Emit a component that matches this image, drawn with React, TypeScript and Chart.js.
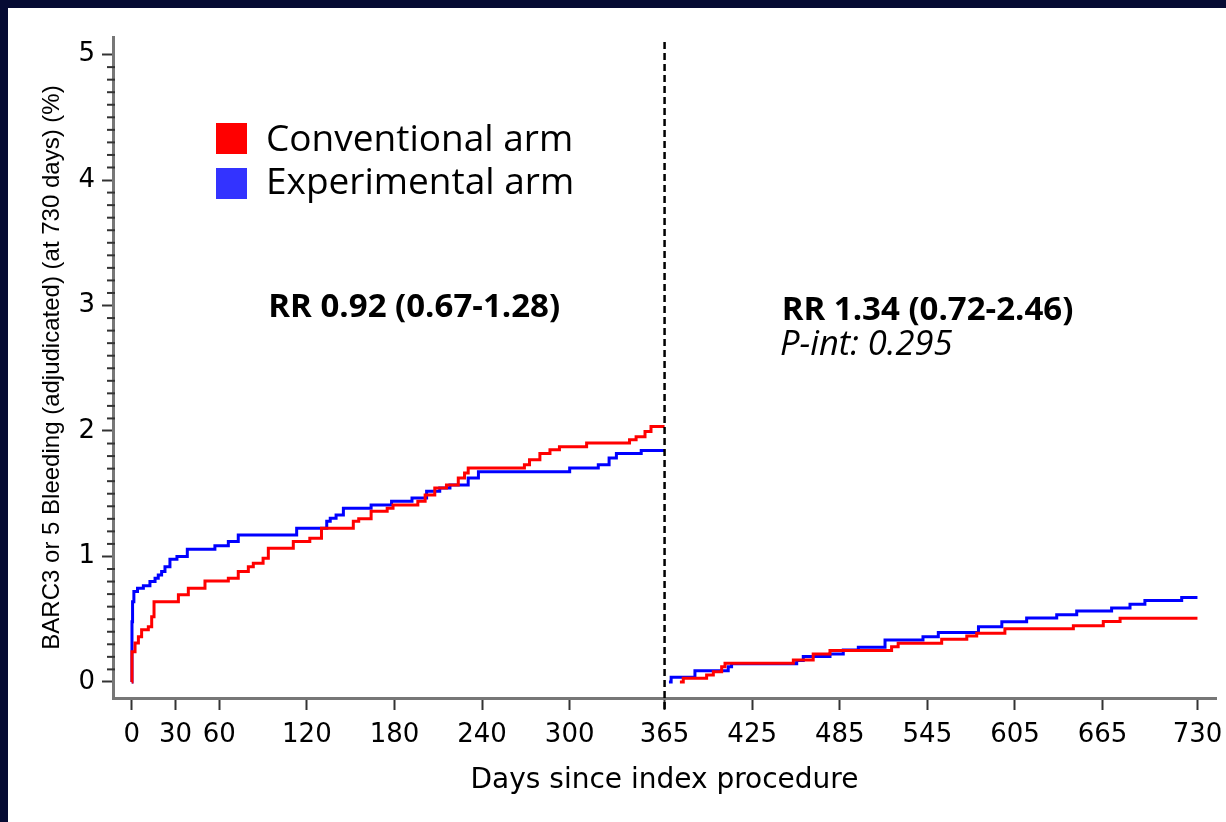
import React, { useEffect, useRef } from "react";
import { Chart, registerables } from "chart.js";

Chart.register(...registerables);

// ---- Data ----
const conventionalDaysYear1 = [0, 0.2, 2.3, 4.6, 6.8, 11.4, 13.7, 15.3, 32, 38.8, 50.2, 66.2, 73, 79.9, 83.3, 90, 93.6, 110.7, 122, 130, 151.8, 155.5, 164, 175, 179, 196, 201, 207.6, 215.6, 223.7, 228, 230.5, 269, 272.5, 279.6, 286.5, 293, 311.6, 341, 345.5, 351.6, 355.7, 365];
const conventionalRiskYear1 = [0, 0.24, 0.31, 0.36, 0.415, 0.44, 0.52, 0.64, 0.695, 0.747, 0.805, 0.827, 0.88, 0.919, 0.946, 0.986, 1.066, 1.119, 1.146, 1.225, 1.28, 1.3, 1.36, 1.385, 1.41, 1.44, 1.49, 1.545, 1.57, 1.625, 1.665, 1.705, 1.73, 1.77, 1.82, 1.85, 1.875, 1.905, 1.93, 1.955, 1.995, 2.035, 2.035];

const experimentalDaysYear1 = [0, 0.2, 0.6, 1.5, 4, 8, 12.5, 16, 18.2, 20.5, 22.8, 26.2, 31, 38.1, 57, 66.2, 73, 113, 133.6, 136, 140, 145, 164, 178, 192, 202, 211, 218, 230.5, 237.5, 300, 319.6, 327, 332, 349, 365];
const experimentalRiskYear1 = [0, 0.48, 0.64, 0.72, 0.747, 0.766, 0.8, 0.827, 0.853, 0.88, 0.919, 0.978, 0.999, 1.058, 1.085, 1.119, 1.172, 1.225, 1.28, 1.305, 1.33, 1.385, 1.41, 1.44, 1.465, 1.52, 1.545, 1.57, 1.625, 1.675, 1.705, 1.73, 1.785, 1.82, 1.845, 1.845];

const conventionalDaysYear2 = [375.5, 377.8, 393.8, 398.4, 404.1, 406.4, 453.2, 466.8, 478.3, 520.5, 525, 554.8, 572, 578.8, 598.1, 645, 665.5, 677, 730];
const conventionalRiskYear2 = [0, 0.029, 0.056, 0.082, 0.122, 0.149, 0.175, 0.223, 0.25, 0.281, 0.309, 0.34, 0.367, 0.388, 0.423, 0.447, 0.481, 0.508, 0.508];

const experimentalDaysYear2 = [368, 369.5, 385.8, 408.6, 410.9, 455.5, 460, 478.3, 487.4, 497.7, 516, 542, 552.5, 580, 596, 613, 633.6, 647.3, 671.2, 683.8, 694, 719.2, 730];
const experimentalRiskYear2 = [0, 0.037, 0.09, 0.122, 0.144, 0.17, 0.202, 0.223, 0.255, 0.277, 0.335, 0.36, 0.395, 0.44, 0.48, 0.51, 0.535, 0.566, 0.59, 0.62, 0.65, 0.672, 0.672];

const xTickValues = [0, 30, 60, 120, 180, 240, 300, 365, 425, 485, 545, 605, 665, 730];
const yTickValues = [0, 1, 2, 3, 4, 5];
const seriesLabels = ["Conventional arm", "Experimental arm"];
const seriesColors = ["#ff0000", "#0000ff"];
const legendColors = ["#ff0000", "#3333ff"];
const landmarkDay = 365;
const annotationTexts = ["RR 0.92 (0.67-1.28)", "RR 1.34 (0.72-2.46)", "P-int: 0.295"];
const annotationDays = [93.6, 445.2, 444];
const annotationBaselines = [2.905, 2.884, 2.608];

const xTitle = "Days since index procedure";
const yTitle = "BARC3 or 5 Bleeding (adjudicated) (at 730 days) (%)";

function toPoints(days: number[], risk: number[]) {
  return days.map((d, i) => ({ x: d, y: risk[i] }));
}

const overlayPlugin = {
  id: "overlay",
  afterDatasetsDraw(chart: any) {
    const { ctx, chartArea, scales } = chart;
    const xs = scales.x;
    const ys = scales.y;
    ctx.save();

    // minor y ticks
    ctx.strokeStyle = "#333";
    ctx.lineWidth = 2;
    for (let i = 0; i < yTickValues.length - 1; i++) {
      for (let j = 1; j < 10; j++) {
        const py = ys.getPixelForValue(yTickValues[i] + j / 10);
        ctx.beginPath();
        ctx.moveTo(chartArea.left - 6, py);
        ctx.lineTo(chartArea.left + 2, py);
        ctx.stroke();
      }
    }

    // dashed landmark line
    const px = xs.getPixelForValue(landmarkDay);
    ctx.setLineDash([7, 4]);
    ctx.lineWidth = 2.5;
    ctx.strokeStyle = "#000";
    ctx.beginPath();
    ctx.moveTo(px, chartArea.top + 5);
    ctx.lineTo(px, chartArea.bottom + 12);
    ctx.stroke();
    ctx.setLineDash([]);

    // legend
    ctx.font = "37px 'Open Sans'";
    ctx.textBaseline = "alphabetic";
    ctx.textAlign = "left";
    const legTop = [86, 131];
    const legBase = [114, 157];
    seriesLabels.forEach((label, i) => {
      ctx.fillStyle = legendColors[i];
      ctx.fillRect(chartArea.left + 103, chartArea.top + legTop[i], 31, 31);
      ctx.fillStyle = "#000";
      ctx.fillText(label, chartArea.left + 153, chartArea.top + legBase[i]);
    });

    // annotations
    const fonts = ["bold 33px 'Open Sans'", "bold 33px 'Open Sans'", "italic 34.5px 'Open Sans'"];
    annotationTexts.forEach((t, i) => {
      ctx.font = fonts[i];
      ctx.fillStyle = "#000";
      ctx.fillText(t, xs.getPixelForValue(annotationDays[i]), ys.getPixelForValue(annotationBaselines[i]));
    });

    ctx.restore();
  },
};

export default function App() {
  const ref = useRef<HTMLCanvasElement | null>(null);

  useEffect(() => {
    if (!ref.current) return;
    const lineDs = (label: string, data: any[], color: string) => ({
      label,
      data,
      borderColor: color,
      backgroundColor: color,
      borderWidth: 3,
      pointRadius: 0,
      fill: false,
      stepped: "before" as const,
    });
    const zeroPad = (s: any) => {
      s.paddingLeft = 0;
      s.paddingRight = 0;
      s.paddingTop = 0;
      s.paddingBottom = 0;
    };
    const chart = new Chart(ref.current, {
      type: "line",
      data: {
        datasets: [
          lineDs(seriesLabels[0], toPoints(conventionalDaysYear1, conventionalRiskYear1), seriesColors[0]),
          lineDs(seriesLabels[1], toPoints(experimentalDaysYear1, experimentalRiskYear1), seriesColors[1]),
          lineDs(seriesLabels[0], toPoints(conventionalDaysYear2, conventionalRiskYear2), seriesColors[0]),
          lineDs(seriesLabels[1], toPoints(experimentalDaysYear2, experimentalRiskYear2), seriesColors[1]),
        ],
      },
      options: {
        animation: false,
        responsive: false,
        maintainAspectRatio: false,
        layout: { padding: { left: 0, top: 29, right: 10, bottom: 0 } },
        plugins: { legend: { display: false }, tooltip: { enabled: false } },
        scales: {
          x: {
            type: "linear",
            min: -12.8,
            max: 742.7,
            afterBuildTicks: (s: any) => {
              s.ticks = xTickValues.map((v) => ({ value: v }));
            },
            afterFit: (s: any) => {
              s.height = 124;
              zeroPad(s);
            },
            grid: { display: true, drawOnChartArea: false, drawTicks: true, tickLength: 12, tickColor: "#333", tickWidth: 2 },
            border: { display: true, color: "#777", width: 3 },
            ticks: {
              autoSkip: false,
              maxRotation: 0,
              minRotation: 0,
              padding: 10,
              color: "#000",
              font: { family: "'DejaVu Sans'", size: 26 },
              callback: (v: any) => String(v),
            },
            title: {
              display: true,
              text: xTitle,
              color: "#000",
              font: { family: "'DejaVu Sans'", size: 28 },
              padding: { top: 0, bottom: 24 },
            },
          },
          y: {
            type: "linear",
            min: -0.128,
            max: 5.14,
            afterBuildTicks: (s: any) => {
              s.ticks = yTickValues.map((v) => ({ value: v }));
            },
            afterFit: (s: any) => {
              s.width = 105;
              zeroPad(s);
            },
            grid: { display: true, drawOnChartArea: false, drawTicks: true, tickLength: 11, tickColor: "#333", tickWidth: 2 },
            border: { display: true, color: "#777", width: 3 },
            ticks: {
              padding: 7,
              color: "#000",
              font: { family: "'DejaVu Sans'", size: 26 },
              callback: (v: any) => String(v),
            },
            title: {
              display: true,
              text: yTitle,
              color: "#000",
              font: { family: "'Liberation Sans'", size: 24 },
              padding: { top: 30, bottom: 0 },
            },
          },
        },
      } as any,
      plugins: [overlayPlugin],
    });
    return () => chart.destroy();
  }, []);

  return (
    <div style={{ position: "fixed", inset: 0, background: "#060b33" }}>
      <div style={{ position: "absolute", left: 8, top: 8, right: 0, bottom: 0, background: "#fff" }}>
        <canvas ref={ref} width={1218} height={814} style={{ display: "block", width: 1218, height: 814 }} />
      </div>
    </div>
  );
}
